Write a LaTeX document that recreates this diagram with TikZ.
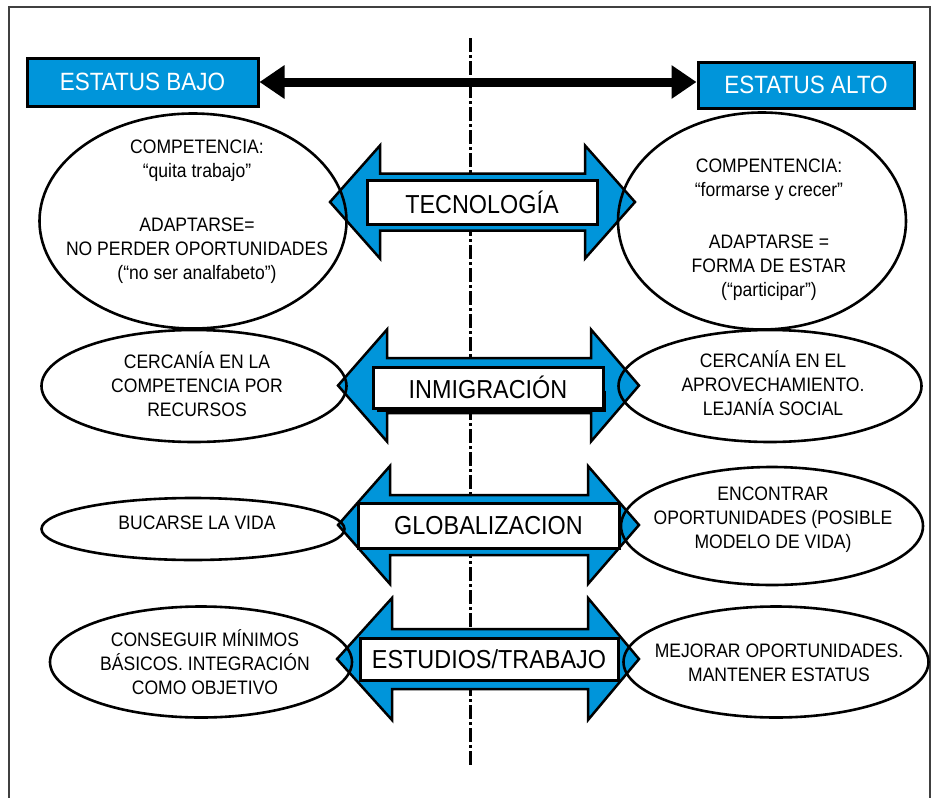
\documentclass[tikz,border=0pt]{standalone}
\usepackage{fontspec}
\setmainfont{Liberation Sans}[FakeStretch=0.9]
\usetikzlibrary{shapes.geometric,arrows.meta}
\definecolor{azul}{RGB}{0,149,218}
\begin{document}
\begin{tikzpicture}[x=1pt,y=-1pt,
	bubble/.style={ellipse,draw,line width=2.6pt,inner sep=0pt},
	bubbletext/.style={align=center,inner sep=0pt,font=\fontsize{19.5}{24}\selectfont},
	statusbox/.style={draw,line width=3pt,fill=azul,text=white,inner sep=0pt,font=\fontsize{25}{28}\selectfont},
	topicbox/.style={draw,line width=3pt,fill=white,inner sep=0pt,font=\fontsize{26}{28}\selectfont},
	bigarrow/.style={draw,line width=2.5pt,fill=azul,line join=miter}]
	\useasboundingbox (0,0) rectangle (932,798);
	\draw[line width=1.5pt,black!75] (9,7) rectangle (930,805);

	% eje central
	\coordinate (axisTop) at (470,38);
	\coordinate (axisBot) at (470,767);
	\draw[line width=3pt,dash pattern=on 14pt off 3pt on 3pt off 3pt] (axisTop) -- (axisBot);

	\node[statusbox,minimum width=231pt,minimum height=48pt] at (142.5,82) (bajo) {ESTATUS BAJO};
	\node[statusbox,minimum width=216pt,minimum height=46pt] at (806,85) (alto) {ESTATUS ALTO};
	\draw[line width=9pt,{Triangle[length=25pt,width=32pt]}-{Triangle[length=25pt,width=32pt]}] (bajo.east) -- (bajo.east -| alto.west);

	% flechas dobles: y / punta izq / base izq / base der / punta der / cabeza / cuerpo
	\foreach \y/\lt/\lb/\rb/\rt/\hh/\sh in {202/330/380/585/635/56.5/28.5,385.5/338/387/591/639/56/27.5,525/338/390/588/639/59/30,659/337/392/588/639/61/30}
		\draw[bigarrow] (\lt,\y) -- (\lb,\y-\hh) -- (\lb,\y-\sh) -- (\rb,\y-\sh) -- (\rb,\y-\hh) -- (\rt,\y)
			-- (\rb,\y+\hh) -- (\rb,\y+\sh) -- (\lb,\y+\sh) -- (\lb,\y+\hh) -- cycle;

	\node[topicbox,minimum width=230pt,minimum height=44pt] at (482,202) (tec) {TECNOLOGÍA};
	\fill (377,391) rectangle (606,412);
	\node[topicbox,minimum width=230pt,minimum height=41pt] at (488,387.5) (inm) {INMIGRACIÓN};
	\node[topicbox,minimum width=261pt,minimum height=45pt] at (488.5,525.5) (glo) {GLOBALIZACION};
	\node[topicbox,minimum width=258pt,minimum height=42pt] at (489,659) (est) {ESTUDIOS/TRABAJO};

	\node[bubble,minimum width=307pt,minimum height=215pt] at (193,221) (tecBajo) {};
	\node[bubble,minimum width=288pt,minimum height=217pt] at (762,221) (tecAlto) {};
	\node[bubble,minimum width=305pt,minimum height=112pt] at (194,386) (inmBajo) {};
	\node[bubble,minimum width=303pt,minimum height=112pt] at (770,386) (inmAlto) {};
	\node[bubble,minimum width=303pt,minimum height=62pt] at (193,529) (gloBajo) {};
	\node[bubble,minimum width=302pt,minimum height=118pt] at (772,526) (gloAlto) {};
	\node[bubble,minimum width=302pt,minimum height=111pt] at (201,662) (estBajo) {};
	\node[bubble,minimum width=305pt,minimum height=111pt] at (776,662) (estAlto) {};

	\node[bubbletext] at (197,212) (tecBajoTxt) {COMPETENCIA:\\“quita trabajo”\\[30pt]ADAPTARSE=\\NO PERDER OPORTUNIDADES\\(“no ser analfabeto”)};
	\node[bubbletext] at (769,230) (tecAltoTxt) {COMPENTENCIA:\\“formarse y crecer”\\[28pt]ADAPTARSE =\\FORMA DE ESTAR\\(“participar”)};
	\node[bubbletext] at (197,384) (inmBajoTxt) {CERCANÍA EN LA\\COMPETENCIA POR\\RECURSOS};
	\node[bubbletext] at (773,383) (inmAltoTxt) {CERCANÍA EN EL\\APROVECHAMIENTO.\\LEJANÍA SOCIAL};
	\node[bubbletext] at (197,523) (gloBajoTxt) {BUCARSE LA VIDA};
	\node[bubbletext] at (773,520) (gloAltoTxt) {ENCONTRAR\\OPORTUNIDADES (POSIBLE\\MODELO DE VIDA)};
	\node[bubbletext] at (205,662) (estBajoTxt) {CONSEGUIR MÍNIMOS\\BÁSICOS. INTEGRACIÓN\\COMO OBJETIVO};
	\node[bubbletext] at (779,663) (estAltoTxt) {MEJORAR OPORTUNIDADES.\\MANTENER ESTATUS};
\end{tikzpicture}
\end{document}
